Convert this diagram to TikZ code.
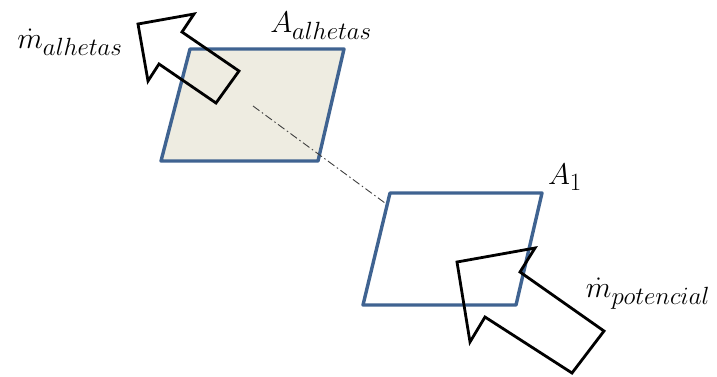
\documentclass[tikz,border=0pt]{standalone}
\usepackage{amsmath, amssymb}
\usepackage{tikz}

\definecolor{plateblue}{HTML}{3F6391}
\definecolor{platefill}{HTML}{EEECE1}

\begin{document}
\begin{tikzpicture}[
				x=1pt, y=-1pt,
				plate/.style={draw=plateblue, line width=3.4pt, line join=round},
				flow/.style={draw=black, line width=2.8pt, line join=miter},
				axis/.style={draw=black!75, line width=0.9pt, dash pattern=on 8pt off 3pt on 1.5pt off 3pt},
				lbl/.style={font=\Huge, inner sep=0pt, scale=1.2, transform shape}
				]
				
				\useasboundingbox (0,0) rectangle (717,376);
				
				% the two areas
				\draw[plate, fill=platefill] (190,49) -- (344,49) -- (318,161) -- (161,161) -- cycle;
				\draw[plate] (390,193) -- (542,193) -- (516,305) -- (363,305) -- cycle;
				
				\coordinate (cAl) at (253,106);
				\coordinate (eA1) at (385,203);
				\draw[axis] (cAl) -- (eA1);
				
				% mass flows
				\draw[flow] (138,24) -- (194,14) -- (182,32) -- (239,71) -- (216,103) -- (159,64) -- (148,81) -- cycle;
				\draw[flow] (457,262) -- (535,248) -- (520,272) -- (604,331) -- (572,373) -- (485,317) -- (470,342) -- cycle;
				
				\node[lbl] (mAl) at (70,42) {$\dot{m}_{alhetas}$};
				\node[lbl] (AAl) at (321,26) {$A_{alhetas}$};
				\node[lbl] (A1) at (565,177) {$A_1$};
				\node[lbl] (mPot) at (648,294) {$\dot{m}_{potencial}$};
				
			\end{tikzpicture}
\end{document}
